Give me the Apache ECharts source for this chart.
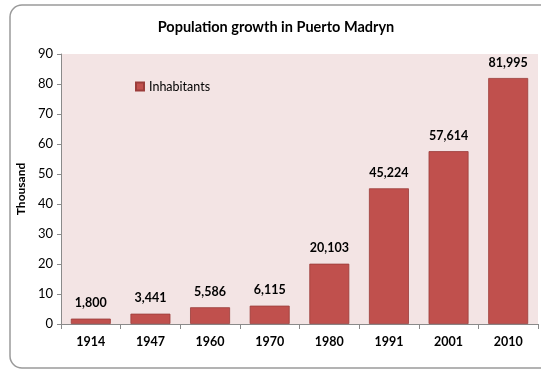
<!DOCTYPE html>
<html>
<head>
<meta charset="utf-8">
<script src="https://cdn.jsdelivr.net/npm/echarts@6/dist/echarts.min.js"></script>
<style>html,body{margin:0;padding:0;background:#fff;}#c{width:541px;height:370px;}</style>
</head>
<body>
<div id="c"></div>
<script>
const categories = ['1914', '1947', '1960', '1970', '1980', '1991', '2001', '2010'];
const inhabitants = [1800, 3441, 5586, 6115, 20103, 45224, 57614, 81995];
const yTicks = [0, 10, 20, 30, 40, 50, 60, 70, 80, 90];

const FONT = 'Lato, "Open Sans", sans-serif';
const chart = echarts.init(document.getElementById('c'), null, {renderer: 'canvas'});
chart.setOption({
  animation: false,
  backgroundColor: '#ffffff',
  textStyle: {fontFamily: FONT},
  graphic: [{
    type: 'rect', z: -10,
    shape: {x: 10, y: 5, width: 580, height: 363, r: 12},
    style: {fill: '#ffffff', stroke: '#9a9a9a', lineWidth: 1.5}
  }],
  title: {
    text: 'Population growth in Puerto Madryn',
    left: 271, top: 15, textAlign: 'center',
    textStyle: {fontFamily: FONT, fontSize: 14.5, fontWeight: 'bold', color: '#000'}
  },
  legend: {
    data: ['Inhabitants'],
    left: 130, top: 75,
    icon: 'rect', itemWidth: 8, itemHeight: 8, itemGap: 4,
    textStyle: {fontFamily: FONT, fontSize: 12.5, color: '#000', padding: [0, 0, 0, 0]}
  },
  grid: {left: 61, top: 54, right: 3, bottom: 46, show: true, backgroundColor: '#f3e4e4', borderWidth: 0},
  xAxis: {
    type: 'category', data: categories,
    axisLine: {lineStyle: {color: '#8a8a8a'}},
    axisTick: {show: true, length: 5, lineStyle: {color: '#8a8a8a'}},
    axisLabel: {fontFamily: FONT, fontSize: 12.5, fontWeight: 'bold', color: '#000', margin: 11}
  },
  yAxis: {
    type: 'value', min: 0, max: 90, interval: 10,
    name: 'Thousand', nameLocation: 'middle', nameGap: 34, nameRotate: 90,
    nameTextStyle: {fontFamily: FONT, fontSize: 12, fontWeight: 'bold', color: '#000'},
    axisLine: {show: true, lineStyle: {color: '#8a8a8a'}},
    axisTick: {show: true, length: 4, lineStyle: {color: '#8a8a8a'}},
    axisLabel: {fontFamily: FONT, fontSize: 13, color: '#000', margin: 8,
      formatter: v => yTicks.includes(v) ? String(v) : ''},
    splitLine: {show: false}
  },
  series: [{
    name: 'Inhabitants', type: 'bar',
    data: inhabitants.map(v => v / 1000),
    barWidth: '67%',
    itemStyle: {color: '#c0504d', borderColor: '#9b3c3a', borderWidth: 0.8},
    label: {
      show: true, position: 'top', distance: 9,
      fontFamily: FONT, fontSize: 12.5, fontWeight: 'bold', color: '#000',
      formatter: p => inhabitants[p.dataIndex].toLocaleString('en-US')
    }
  }]
});
</script>
</body>
</html>
